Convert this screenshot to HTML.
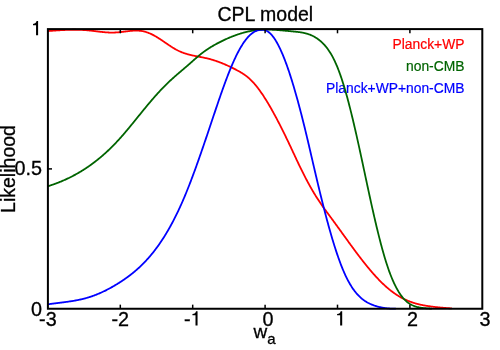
<!DOCTYPE html>
<html><head><meta charset="utf-8"><style>
html,body{margin:0;padding:0;background:#fff;}
svg{display:block;font-family:"Liberation Sans",sans-serif;will-change:transform;opacity:0.999;}
</style></head><body>
<svg width="500" height="350" viewBox="0 0 500 350">
<g font-size="13.85px" text-anchor="end" stroke-width="0.2">
<text x="464.5" y="48.9" fill="#ff0000" stroke="#ff0000">Planck+WP</text>
<text x="464.5" y="70.9" fill="#006400" stroke="#006400">non-CMB</text>
<text x="464.5" y="92.9" fill="#0000ff" stroke="#0000ff">Planck+WP+non-CMB</text>
</g>
<g fill="none" stroke-width="1.8" stroke-linejoin="round">
<path stroke="#ff0000" d="M47.9,31.09 L48.4,31.05 L48.9,31.01 L49.4,30.97 L49.9,30.93 L50.4,30.89 L50.9,30.86 L51.4,30.82 L51.9,30.78 L52.4,30.74 L52.9,30.71 L53.4,30.67 L53.9,30.63 L54.4,30.60 L54.9,30.56 L55.4,30.53 L55.9,30.49 L56.4,30.46 L56.9,30.43 L57.4,30.39 L57.9,30.36 L58.4,30.33 L58.9,30.30 L59.4,30.27 L59.9,30.24 L60.4,30.21 L60.9,30.18 L61.4,30.15 L61.9,30.13 L62.4,30.10 L62.9,30.07 L63.4,30.05 L63.9,30.03 L64.4,30.00 L64.9,29.98 L65.4,29.96 L65.9,29.94 L66.4,29.92 L66.9,29.90 L67.4,29.88 L67.9,29.87 L68.4,29.85 L68.9,29.84 L69.4,29.83 L69.9,29.82 L70.4,29.80 L70.9,29.80 L71.4,29.79 L71.9,29.78 L72.4,29.77 L72.9,29.77 L73.4,29.77 L73.9,29.76 L74.4,29.76 L74.9,29.77 L75.4,29.77 L75.9,29.77 L76.4,29.78 L76.9,29.78 L77.4,29.79 L77.9,29.80 L78.4,29.81 L78.9,29.82 L79.4,29.84 L79.9,29.85 L80.4,29.87 L80.9,29.89 L81.4,29.91 L81.9,29.93 L82.4,29.96 L82.9,29.98 L83.4,30.01 L83.9,30.04 L84.4,30.07 L84.9,30.11 L85.4,30.14 L85.9,30.18 L86.4,30.22 L86.9,30.26 L87.4,30.30 L87.9,30.35 L88.4,30.39 L88.9,30.44 L89.4,30.49 L89.9,30.54 L90.4,30.60 L90.9,30.65 L91.4,30.71 L91.9,30.77 L92.4,30.82 L92.9,30.88 L93.4,30.94 L93.9,31.01 L94.4,31.07 L94.9,31.13 L95.4,31.19 L95.9,31.25 L96.4,31.32 L96.9,31.38 L97.4,31.44 L97.9,31.50 L98.4,31.56 L98.9,31.62 L99.4,31.68 L99.9,31.74 L100.4,31.80 L100.9,31.86 L101.4,31.91 L101.9,31.97 L102.4,32.02 L102.9,32.07 L103.4,32.12 L103.9,32.17 L104.4,32.21 L104.9,32.26 L105.4,32.30 L105.9,32.34 L106.4,32.38 L106.9,32.41 L107.4,32.44 L107.9,32.47 L108.4,32.49 L108.9,32.52 L109.4,32.54 L109.9,32.55 L110.4,32.56 L110.9,32.57 L111.4,32.58 L111.9,32.58 L112.4,32.58 L112.9,32.57 L113.4,32.56 L113.9,32.55 L114.4,32.53 L114.9,32.51 L115.4,32.48 L115.9,32.46 L116.4,32.43 L116.9,32.39 L117.4,32.36 L117.9,32.32 L118.4,32.28 L118.9,32.23 L119.4,32.19 L119.9,32.14 L120.4,32.09 L120.9,32.04 L121.4,31.99 L121.9,31.93 L122.4,31.87 L122.9,31.82 L123.4,31.76 L123.9,31.70 L124.4,31.64 L124.9,31.58 L125.4,31.51 L125.9,31.45 L126.4,31.39 L126.9,31.33 L127.4,31.27 L127.9,31.21 L128.4,31.15 L128.9,31.09 L129.4,31.04 L129.9,30.98 L130.4,30.93 L130.9,30.88 L131.4,30.84 L131.9,30.79 L132.4,30.76 L132.9,30.72 L133.4,30.69 L133.9,30.66 L134.4,30.64 L134.9,30.62 L135.4,30.61 L135.9,30.60 L136.4,30.60 L136.9,30.61 L137.4,30.62 L137.9,30.64 L138.4,30.66 L138.9,30.69 L139.4,30.73 L139.9,30.78 L140.4,30.83 L140.9,30.89 L141.4,30.96 L141.9,31.04 L142.4,31.13 L142.9,31.23 L143.4,31.34 L143.9,31.45 L144.4,31.57 L144.9,31.71 L145.4,31.85 L145.9,32.00 L146.4,32.15 L146.9,32.32 L147.4,32.49 L147.9,32.67 L148.4,32.86 L148.9,33.06 L149.4,33.26 L149.9,33.47 L150.4,33.69 L150.9,33.92 L151.4,34.15 L151.9,34.39 L152.4,34.63 L152.9,34.89 L153.4,35.15 L153.9,35.41 L154.4,35.69 L154.9,35.97 L155.4,36.25 L155.9,36.54 L156.4,36.84 L156.9,37.14 L157.4,37.44 L157.9,37.75 L158.4,38.07 L158.9,38.38 L159.4,38.71 L159.9,39.03 L160.4,39.36 L160.9,39.69 L161.4,40.02 L161.9,40.36 L162.4,40.69 L162.9,41.03 L163.4,41.37 L163.9,41.71 L164.4,42.06 L164.9,42.40 L165.4,42.74 L165.9,43.08 L166.4,43.42 L166.9,43.76 L167.4,44.10 L167.9,44.44 L168.4,44.78 L168.9,45.12 L169.4,45.45 L169.9,45.78 L170.4,46.11 L170.9,46.43 L171.4,46.76 L171.9,47.07 L172.4,47.39 L172.9,47.70 L173.4,48.01 L173.9,48.31 L174.4,48.60 L174.9,48.90 L175.4,49.18 L175.9,49.46 L176.4,49.74 L176.9,50.00 L177.4,50.26 L177.9,50.52 L178.4,50.76 L178.9,51.00 L179.4,51.24 L179.9,51.46 L180.4,51.68 L180.9,51.89 L181.4,52.10 L181.9,52.30 L182.4,52.50 L182.9,52.68 L183.4,52.87 L183.9,53.04 L184.4,53.22 L184.9,53.38 L185.4,53.55 L185.9,53.70 L186.4,53.86 L186.9,54.01 L187.4,54.15 L187.9,54.29 L188.4,54.43 L188.9,54.56 L189.4,54.69 L189.9,54.82 L190.4,54.94 L190.9,55.06 L191.4,55.18 L191.9,55.29 L192.4,55.40 L192.9,55.51 L193.4,55.62 L193.9,55.72 L194.4,55.83 L194.9,55.93 L195.4,56.03 L195.9,56.13 L196.4,56.23 L196.9,56.33 L197.4,56.42 L197.9,56.52 L198.4,56.62 L198.9,56.71 L199.4,56.81 L199.9,56.90 L200.4,57.00 L200.9,57.09 L201.4,57.19 L201.9,57.29 L202.4,57.39 L202.9,57.49 L203.4,57.59 L203.9,57.69 L204.4,57.80 L204.9,57.90 L205.4,58.01 L205.9,58.12 L206.4,58.24 L206.9,58.35 L207.4,58.47 L207.9,58.59 L208.4,58.72 L208.9,58.84 L209.4,58.97 L209.9,59.11 L210.4,59.24 L210.9,59.38 L211.4,59.52 L211.9,59.67 L212.4,59.82 L212.9,59.97 L213.4,60.12 L213.9,60.28 L214.4,60.44 L214.9,60.60 L215.4,60.77 L215.9,60.94 L216.4,61.11 L216.9,61.28 L217.4,61.46 L217.9,61.64 L218.4,61.82 L218.9,62.00 L219.4,62.19 L219.9,62.38 L220.4,62.57 L220.9,62.76 L221.4,62.96 L221.9,63.16 L222.4,63.36 L222.9,63.57 L223.4,63.77 L223.9,63.98 L224.4,64.19 L224.9,64.41 L225.4,64.62 L225.9,64.84 L226.4,65.06 L226.9,65.29 L227.4,65.51 L227.9,65.74 L228.4,65.97 L228.9,66.20 L229.4,66.43 L229.9,66.67 L230.4,66.91 L230.9,67.15 L231.4,67.39 L231.9,67.63 L232.4,67.88 L232.9,68.13 L233.4,68.38 L233.9,68.63 L234.4,68.88 L234.9,69.14 L235.4,69.40 L235.9,69.65 L236.4,69.92 L236.9,70.18 L237.4,70.44 L237.9,70.71 L238.4,70.99 L238.9,71.26 L239.4,71.54 L239.9,71.83 L240.4,72.11 L240.9,72.41 L241.4,72.71 L241.9,73.02 L242.4,73.33 L242.9,73.65 L243.4,73.98 L243.9,74.31 L244.4,74.65 L244.9,75.00 L245.4,75.36 L245.9,75.73 L246.4,76.11 L246.9,76.50 L247.4,76.90 L247.9,77.31 L248.4,77.74 L248.9,78.17 L249.4,78.62 L249.9,79.07 L250.4,79.55 L250.9,80.03 L251.4,80.53 L251.9,81.04 L252.4,81.56 L252.9,82.09 L253.4,82.64 L253.9,83.19 L254.4,83.76 L254.9,84.35 L255.4,84.94 L255.9,85.54 L256.4,86.16 L256.9,86.78 L257.4,87.42 L257.9,88.07 L258.4,88.73 L258.9,89.39 L259.4,90.07 L259.9,90.76 L260.4,91.46 L260.9,92.17 L261.4,92.89 L261.9,93.62 L262.4,94.35 L262.9,95.10 L263.4,95.85 L263.9,96.62 L264.4,97.39 L264.9,98.17 L265.4,98.96 L265.9,99.76 L266.4,100.57 L266.9,101.38 L267.4,102.21 L267.9,103.04 L268.4,103.88 L268.9,104.72 L269.4,105.57 L269.9,106.43 L270.4,107.30 L270.9,108.18 L271.4,109.06 L271.9,109.94 L272.4,110.84 L272.9,111.74 L273.4,112.64 L273.9,113.56 L274.4,114.47 L274.9,115.40 L275.4,116.33 L275.9,117.26 L276.4,118.20 L276.9,119.15 L277.4,120.10 L277.9,121.06 L278.4,122.02 L278.9,122.98 L279.4,123.95 L279.9,124.93 L280.4,125.91 L280.9,126.90 L281.4,127.89 L281.9,128.88 L282.4,129.88 L282.9,130.89 L283.4,131.90 L283.9,132.91 L284.4,133.92 L284.9,134.95 L285.4,135.97 L285.9,137.00 L286.4,138.03 L286.9,139.07 L287.4,140.11 L287.9,141.15 L288.4,142.20 L288.9,143.25 L289.4,144.30 L289.9,145.36 L290.4,146.42 L290.9,147.48 L291.4,148.55 L291.9,149.62 L292.4,150.69 L292.9,151.76 L293.4,152.83 L293.9,153.91 L294.4,154.98 L294.9,156.05 L295.4,157.12 L295.9,158.19 L296.4,159.26 L296.9,160.32 L297.4,161.38 L297.9,162.44 L298.4,163.49 L298.9,164.54 L299.4,165.58 L299.9,166.62 L300.4,167.65 L300.9,168.67 L301.4,169.69 L301.9,170.71 L302.4,171.71 L302.9,172.71 L303.4,173.70 L303.9,174.69 L304.4,175.67 L304.9,176.64 L305.4,177.61 L305.9,178.57 L306.4,179.52 L306.9,180.47 L307.4,181.40 L307.9,182.33 L308.4,183.26 L308.9,184.17 L309.4,185.08 L309.9,185.98 L310.4,186.88 L310.9,187.77 L311.4,188.64 L311.9,189.51 L312.4,190.38 L312.9,191.23 L313.4,192.08 L313.9,192.92 L314.4,193.75 L314.9,194.57 L315.4,195.39 L315.9,196.19 L316.4,196.99 L316.9,197.78 L317.4,198.56 L317.9,199.33 L318.4,200.10 L318.9,200.85 L319.4,201.60 L319.9,202.34 L320.4,203.08 L320.9,203.81 L321.4,204.53 L321.9,205.24 L322.4,205.96 L322.9,206.66 L323.4,207.36 L323.9,208.06 L324.4,208.75 L324.9,209.44 L325.4,210.13 L325.9,210.81 L326.4,211.50 L326.9,212.18 L327.4,212.85 L327.9,213.53 L328.4,214.21 L328.9,214.88 L329.4,215.56 L329.9,216.23 L330.4,216.91 L330.9,217.58 L331.4,218.26 L331.9,218.94 L332.4,219.62 L332.9,220.30 L333.4,220.98 L333.9,221.67 L334.4,222.35 L334.9,223.04 L335.4,223.73 L335.9,224.42 L336.4,225.10 L336.9,225.79 L337.4,226.48 L337.9,227.18 L338.4,227.87 L338.9,228.56 L339.4,229.25 L339.9,229.95 L340.4,230.64 L340.9,231.33 L341.4,232.03 L341.9,232.72 L342.4,233.41 L342.9,234.11 L343.4,234.80 L343.9,235.50 L344.4,236.19 L344.9,236.88 L345.4,237.58 L345.9,238.27 L346.4,238.96 L346.9,239.65 L347.4,240.34 L347.9,241.03 L348.4,241.72 L348.9,242.41 L349.4,243.10 L349.9,243.79 L350.4,244.47 L350.9,245.16 L351.4,245.84 L351.9,246.52 L352.4,247.20 L352.9,247.88 L353.4,248.56 L353.9,249.24 L354.4,249.92 L354.9,250.59 L355.4,251.26 L355.9,251.93 L356.4,252.60 L356.9,253.27 L357.4,253.93 L357.9,254.60 L358.4,255.26 L358.9,255.92 L359.4,256.57 L359.9,257.23 L360.4,257.88 L360.9,258.53 L361.4,259.18 L361.9,259.82 L362.4,260.46 L362.9,261.10 L363.4,261.74 L363.9,262.37 L364.4,263.00 L364.9,263.63 L365.4,264.26 L365.9,264.88 L366.4,265.50 L366.9,266.12 L367.4,266.73 L367.9,267.34 L368.4,267.94 L368.9,268.55 L369.4,269.14 L369.9,269.74 L370.4,270.33 L370.9,270.92 L371.4,271.50 L371.9,272.09 L372.4,272.66 L372.9,273.23 L373.4,273.80 L373.9,274.37 L374.4,274.93 L374.9,275.48 L375.4,276.04 L375.9,276.58 L376.4,277.13 L376.9,277.67 L377.4,278.20 L377.9,278.73 L378.4,279.25 L378.9,279.77 L379.4,280.29 L379.9,280.80 L380.4,281.31 L380.9,281.81 L381.4,282.30 L381.9,282.79 L382.4,283.28 L382.9,283.76 L383.4,284.23 L383.9,284.70 L384.4,285.16 L384.9,285.62 L385.4,286.07 L385.9,286.52 L386.4,286.96 L386.9,287.40 L387.4,287.83 L387.9,288.25 L388.4,288.67 L388.9,289.08 L389.4,289.49 L389.9,289.90 L390.4,290.29 L390.9,290.69 L391.4,291.07 L391.9,291.45 L392.4,291.83 L392.9,292.20 L393.4,292.56 L393.9,292.92 L394.4,293.28 L394.9,293.63 L395.4,293.97 L395.9,294.31 L396.4,294.64 L396.9,294.97 L397.4,295.29 L397.9,295.60 L398.4,295.91 L398.9,296.22 L399.4,296.52 L399.9,296.81 L400.4,297.10 L400.9,297.39 L401.4,297.66 L401.9,297.94 L402.4,298.20 L402.9,298.47 L403.4,298.72 L403.9,298.97 L404.4,299.22 L404.9,299.46 L405.4,299.69 L405.9,299.92 L406.4,300.15 L406.9,300.37 L407.4,300.58 L407.9,300.79 L408.4,301.00 L408.9,301.20 L409.4,301.39 L409.9,301.58 L410.4,301.77 L410.9,301.95 L411.4,302.13 L411.9,302.30 L412.4,302.47 L412.9,302.64 L413.4,302.80 L413.9,302.96 L414.4,303.11 L414.9,303.26 L415.4,303.40 L415.9,303.55 L416.4,303.69 L416.9,303.82 L417.4,303.95 L417.9,304.08 L418.4,304.20 L418.9,304.33 L419.4,304.44 L419.9,304.56 L420.4,304.67 L420.9,304.78 L421.4,304.89 L421.9,304.99 L422.4,305.09 L422.9,305.19 L423.4,305.29 L423.9,305.38 L424.4,305.47 L424.9,305.56 L425.4,305.65 L425.9,305.73 L426.4,305.81 L426.9,305.89 L427.4,305.97 L427.9,306.05 L428.4,306.12 L428.9,306.19 L429.4,306.26 L429.9,306.33 L430.4,306.40 L430.9,306.47 L431.4,306.53 L431.9,306.60 L432.4,306.66 L432.9,306.72 L433.4,306.78 L433.9,306.84 L434.4,306.90 L434.9,306.96 L435.4,307.02 L435.9,307.07 L436.4,307.13 L436.9,307.18 L437.4,307.24 L437.9,307.29 L438.4,307.34 L438.9,307.39 L439.4,307.44 L439.9,307.49 L440.4,307.54 L440.9,307.59 L441.4,307.63 L441.9,307.68 L442.4,307.72 L442.9,307.77 L443.4,307.81 L443.9,307.85 L444.4,307.90 L444.9,307.94 L445.4,307.98 L445.9,308.01 L446.4,308.05 L446.9,308.09 L447.4,308.13 L447.9,308.16 L448.4,308.20 L448.9,308.23 L449.4,308.26 L449.9,308.29 L450.4,308.32 L450.9,308.36 L451.4,308.38 L451.9,308.41"/>
<path stroke="#006400" d="M47.9,186.24 L48.4,186.09 L48.9,185.93 L49.4,185.77 L49.9,185.60 L50.4,185.44 L50.9,185.27 L51.4,185.10 L51.9,184.93 L52.4,184.76 L52.9,184.59 L53.4,184.41 L53.9,184.23 L54.4,184.05 L54.9,183.87 L55.4,183.69 L55.9,183.50 L56.4,183.32 L56.9,183.13 L57.4,182.93 L57.9,182.74 L58.4,182.55 L58.9,182.35 L59.4,182.15 L59.9,181.95 L60.4,181.74 L60.9,181.54 L61.4,181.33 L61.9,181.12 L62.4,180.91 L62.9,180.69 L63.4,180.48 L63.9,180.26 L64.4,180.04 L64.9,179.81 L65.4,179.59 L65.9,179.36 L66.4,179.13 L66.9,178.90 L67.4,178.67 L67.9,178.43 L68.4,178.19 L68.9,177.95 L69.4,177.71 L69.9,177.46 L70.4,177.21 L70.9,176.96 L71.4,176.71 L71.9,176.45 L72.4,176.19 L72.9,175.93 L73.4,175.67 L73.9,175.40 L74.4,175.14 L74.9,174.87 L75.4,174.59 L75.9,174.32 L76.4,174.04 L76.9,173.76 L77.4,173.48 L77.9,173.19 L78.4,172.90 L78.9,172.61 L79.4,172.32 L79.9,172.02 L80.4,171.72 L80.9,171.42 L81.4,171.12 L81.9,170.81 L82.4,170.50 L82.9,170.19 L83.4,169.87 L83.9,169.55 L84.4,169.23 L84.9,168.91 L85.4,168.58 L85.9,168.25 L86.4,167.92 L86.9,167.59 L87.4,167.25 L87.9,166.91 L88.4,166.56 L88.9,166.22 L89.4,165.87 L89.9,165.52 L90.4,165.16 L90.9,164.80 L91.4,164.44 L91.9,164.08 L92.4,163.71 L92.9,163.34 L93.4,162.97 L93.9,162.59 L94.4,162.21 L94.9,161.83 L95.4,161.44 L95.9,161.05 L96.4,160.66 L96.9,160.27 L97.4,159.87 L97.9,159.47 L98.4,159.06 L98.9,158.65 L99.4,158.24 L99.9,157.83 L100.4,157.41 L100.9,156.99 L101.4,156.57 L101.9,156.14 L102.4,155.71 L102.9,155.27 L103.4,154.84 L103.9,154.40 L104.4,153.95 L104.9,153.50 L105.4,153.05 L105.9,152.60 L106.4,152.14 L106.9,151.68 L107.4,151.22 L107.9,150.75 L108.4,150.28 L108.9,149.80 L109.4,149.32 L109.9,148.84 L110.4,148.36 L110.9,147.87 L111.4,147.37 L111.9,146.88 L112.4,146.38 L112.9,145.87 L113.4,145.37 L113.9,144.86 L114.4,144.34 L114.9,143.82 L115.4,143.30 L115.9,142.78 L116.4,142.25 L116.9,141.72 L117.4,141.18 L117.9,140.64 L118.4,140.09 L118.9,139.55 L119.4,139.00 L119.9,138.44 L120.4,137.88 L120.9,137.32 L121.4,136.76 L121.9,136.19 L122.4,135.62 L122.9,135.04 L123.4,134.47 L123.9,133.89 L124.4,133.30 L124.9,132.72 L125.4,132.13 L125.9,131.54 L126.4,130.95 L126.9,130.36 L127.4,129.76 L127.9,129.16 L128.4,128.56 L128.9,127.96 L129.4,127.35 L129.9,126.75 L130.4,126.14 L130.9,125.53 L131.4,124.93 L131.9,124.31 L132.4,123.70 L132.9,123.09 L133.4,122.48 L133.9,121.86 L134.4,121.25 L134.9,120.63 L135.4,120.01 L135.9,119.39 L136.4,118.78 L136.9,118.16 L137.4,117.54 L137.9,116.92 L138.4,116.30 L138.9,115.69 L139.4,115.07 L139.9,114.45 L140.4,113.83 L140.9,113.22 L141.4,112.60 L141.9,111.98 L142.4,111.37 L142.9,110.75 L143.4,110.14 L143.9,109.53 L144.4,108.92 L144.9,108.31 L145.4,107.70 L145.9,107.09 L146.4,106.49 L146.9,105.88 L147.4,105.28 L147.9,104.68 L148.4,104.08 L148.9,103.49 L149.4,102.89 L149.9,102.30 L150.4,101.71 L150.9,101.12 L151.4,100.54 L151.9,99.95 L152.4,99.37 L152.9,98.80 L153.4,98.22 L153.9,97.65 L154.4,97.08 L154.9,96.51 L155.4,95.95 L155.9,95.39 L156.4,94.83 L156.9,94.28 L157.4,93.72 L157.9,93.18 L158.4,92.63 L158.9,92.09 L159.4,91.55 L159.9,91.01 L160.4,90.48 L160.9,89.94 L161.4,89.42 L161.9,88.89 L162.4,88.37 L162.9,87.85 L163.4,87.34 L163.9,86.83 L164.4,86.32 L164.9,85.81 L165.4,85.31 L165.9,84.81 L166.4,84.32 L166.9,83.83 L167.4,83.34 L167.9,82.86 L168.4,82.38 L168.9,81.90 L169.4,81.43 L169.9,80.96 L170.4,80.49 L170.9,80.03 L171.4,79.57 L171.9,79.11 L172.4,78.66 L172.9,78.21 L173.4,77.76 L173.9,77.32 L174.4,76.87 L174.9,76.43 L175.4,75.99 L175.9,75.56 L176.4,75.12 L176.9,74.69 L177.4,74.26 L177.9,73.83 L178.4,73.40 L178.9,72.98 L179.4,72.55 L179.9,72.12 L180.4,71.70 L180.9,71.27 L181.4,70.85 L181.9,70.42 L182.4,70.00 L182.9,69.57 L183.4,69.15 L183.9,68.72 L184.4,68.30 L184.9,67.87 L185.4,67.44 L185.9,67.01 L186.4,66.58 L186.9,66.15 L187.4,65.72 L187.9,65.28 L188.4,64.85 L188.9,64.41 L189.4,63.97 L189.9,63.53 L190.4,63.09 L190.9,62.64 L191.4,62.20 L191.9,61.76 L192.4,61.31 L192.9,60.87 L193.4,60.43 L193.9,59.99 L194.4,59.55 L194.9,59.11 L195.4,58.67 L195.9,58.24 L196.4,57.80 L196.9,57.37 L197.4,56.95 L197.9,56.52 L198.4,56.10 L198.9,55.68 L199.4,55.27 L199.9,54.86 L200.4,54.45 L200.9,54.05 L201.4,53.66 L201.9,53.27 L202.4,52.88 L202.9,52.50 L203.4,52.13 L203.9,51.76 L204.4,51.39 L204.9,51.03 L205.4,50.68 L205.9,50.33 L206.4,49.98 L206.9,49.64 L207.4,49.30 L207.9,48.97 L208.4,48.64 L208.9,48.32 L209.4,48.00 L209.9,47.69 L210.4,47.38 L210.9,47.07 L211.4,46.76 L211.9,46.46 L212.4,46.17 L212.9,45.87 L213.4,45.59 L213.9,45.30 L214.4,45.02 L214.9,44.74 L215.4,44.46 L215.9,44.18 L216.4,43.91 L216.9,43.64 L217.4,43.38 L217.9,43.11 L218.4,42.85 L218.9,42.59 L219.4,42.34 L219.9,42.08 L220.4,41.83 L220.9,41.58 L221.4,41.33 L221.9,41.09 L222.4,40.84 L222.9,40.60 L223.4,40.36 L223.9,40.12 L224.4,39.89 L224.9,39.65 L225.4,39.42 L225.9,39.19 L226.4,38.97 L226.9,38.74 L227.4,38.52 L227.9,38.30 L228.4,38.08 L228.9,37.87 L229.4,37.65 L229.9,37.44 L230.4,37.23 L230.9,37.03 L231.4,36.82 L231.9,36.62 L232.4,36.43 L232.9,36.23 L233.4,36.04 L233.9,35.84 L234.4,35.66 L234.9,35.47 L235.4,35.29 L235.9,35.11 L236.4,34.93 L236.9,34.75 L237.4,34.58 L237.9,34.41 L238.4,34.24 L238.9,34.08 L239.4,33.91 L239.9,33.76 L240.4,33.60 L240.9,33.45 L241.4,33.29 L241.9,33.15 L242.4,33.00 L242.9,32.86 L243.4,32.72 L243.9,32.58 L244.4,32.45 L244.9,32.32 L245.4,32.19 L245.9,32.06 L246.4,31.94 L246.9,31.82 L247.4,31.71 L247.9,31.59 L248.4,31.48 L248.9,31.38 L249.4,31.27 L249.9,31.17 L250.4,31.07 L250.9,30.98 L251.4,30.89 L251.9,30.80 L252.4,30.71 L252.9,30.63 L253.4,30.55 L253.9,30.48 L254.4,30.41 L254.9,30.34 L255.4,30.27 L255.9,30.21 L256.4,30.15 L256.9,30.10 L257.4,30.05 L257.9,30.00 L258.4,29.95 L258.9,29.91 L259.4,29.87 L259.9,29.83 L260.4,29.80 L260.9,29.77 L261.4,29.74 L261.9,29.71 L262.4,29.69 L262.9,29.67 L263.4,29.65 L263.9,29.64 L264.4,29.63 L264.9,29.62 L265.4,29.61 L265.9,29.61 L266.4,29.61 L266.9,29.60 L267.4,29.61 L267.9,29.61 L268.4,29.62 L268.9,29.63 L269.4,29.64 L269.9,29.65 L270.4,29.66 L270.9,29.68 L271.4,29.70 L271.9,29.72 L272.4,29.74 L272.9,29.76 L273.4,29.79 L273.9,29.81 L274.4,29.84 L274.9,29.87 L275.4,29.90 L275.9,29.93 L276.4,29.97 L276.9,30.00 L277.4,30.04 L277.9,30.07 L278.4,30.11 L278.9,30.15 L279.4,30.19 L279.9,30.23 L280.4,30.27 L280.9,30.32 L281.4,30.36 L281.9,30.40 L282.4,30.45 L282.9,30.49 L283.4,30.54 L283.9,30.58 L284.4,30.63 L284.9,30.68 L285.4,30.73 L285.9,30.77 L286.4,30.82 L286.9,30.87 L287.4,30.92 L287.9,30.97 L288.4,31.02 L288.9,31.06 L289.4,31.11 L289.9,31.16 L290.4,31.21 L290.9,31.26 L291.4,31.31 L291.9,31.35 L292.4,31.40 L292.9,31.45 L293.4,31.49 L293.9,31.54 L294.4,31.59 L294.9,31.64 L295.4,31.69 L295.9,31.74 L296.4,31.79 L296.9,31.85 L297.4,31.90 L297.9,31.96 L298.4,32.02 L298.9,32.09 L299.4,32.15 L299.9,32.22 L300.4,32.30 L300.9,32.37 L301.4,32.46 L301.9,32.54 L302.4,32.63 L302.9,32.73 L303.4,32.83 L303.9,32.94 L304.4,33.05 L304.9,33.16 L305.4,33.29 L305.9,33.42 L306.4,33.55 L306.9,33.69 L307.4,33.84 L307.9,34.00 L308.4,34.17 L308.9,34.34 L309.4,34.52 L309.9,34.71 L310.4,34.90 L310.9,35.11 L311.4,35.33 L311.9,35.55 L312.4,35.78 L312.9,36.03 L313.4,36.28 L313.9,36.54 L314.4,36.82 L314.9,37.10 L315.4,37.40 L315.9,37.71 L316.4,38.03 L316.9,38.36 L317.4,38.70 L317.9,39.05 L318.4,39.42 L318.9,39.80 L319.4,40.19 L319.9,40.60 L320.4,41.02 L320.9,41.45 L321.4,41.90 L321.9,42.36 L322.4,42.84 L322.9,43.33 L323.4,43.84 L323.9,44.36 L324.4,44.90 L324.9,45.46 L325.4,46.04 L325.9,46.64 L326.4,47.25 L326.9,47.89 L327.4,48.55 L327.9,49.23 L328.4,49.93 L328.9,50.65 L329.4,51.40 L329.9,52.18 L330.4,52.98 L330.9,53.80 L331.4,54.65 L331.9,55.53 L332.4,56.44 L332.9,57.38 L333.4,58.34 L333.9,59.34 L334.4,60.36 L334.9,61.42 L335.4,62.51 L335.9,63.63 L336.4,64.79 L336.9,65.97 L337.4,67.19 L337.9,68.44 L338.4,69.73 L338.9,71.04 L339.4,72.39 L339.9,73.76 L340.4,75.17 L340.9,76.61 L341.4,78.08 L341.9,79.58 L342.4,81.12 L342.9,82.68 L343.4,84.27 L343.9,85.90 L344.4,87.55 L344.9,89.24 L345.4,90.95 L345.9,92.70 L346.4,94.47 L346.9,96.27 L347.4,98.10 L347.9,99.96 L348.4,101.84 L348.9,103.75 L349.4,105.68 L349.9,107.63 L350.4,109.61 L350.9,111.61 L351.4,113.63 L351.9,115.68 L352.4,117.74 L352.9,119.83 L353.4,121.93 L353.9,124.05 L354.4,126.20 L354.9,128.35 L355.4,130.53 L355.9,132.72 L356.4,134.92 L356.9,137.14 L357.4,139.38 L357.9,141.62 L358.4,143.88 L358.9,146.15 L359.4,148.43 L359.9,150.73 L360.4,153.03 L360.9,155.34 L361.4,157.66 L361.9,159.98 L362.4,162.31 L362.9,164.64 L363.4,166.98 L363.9,169.32 L364.4,171.66 L364.9,174.00 L365.4,176.35 L365.9,178.69 L366.4,181.02 L366.9,183.36 L367.4,185.69 L367.9,188.02 L368.4,190.34 L368.9,192.65 L369.4,194.96 L369.9,197.26 L370.4,199.55 L370.9,201.82 L371.4,204.09 L371.9,206.34 L372.4,208.58 L372.9,210.81 L373.4,213.02 L373.9,215.21 L374.4,217.39 L374.9,219.55 L375.4,221.70 L375.9,223.82 L376.4,225.93 L376.9,228.01 L377.4,230.08 L377.9,232.12 L378.4,234.14 L378.9,236.14 L379.4,238.12 L379.9,240.07 L380.4,242.00 L380.9,243.91 L381.4,245.79 L381.9,247.64 L382.4,249.46 L382.9,251.26 L383.4,253.03 L383.9,254.77 L384.4,256.48 L384.9,258.16 L385.4,259.81 L385.9,261.43 L386.4,263.01 L386.9,264.56 L387.4,266.08 L387.9,267.57 L388.4,269.02 L388.9,270.44 L389.4,271.82 L389.9,273.17 L390.4,274.48 L390.9,275.77 L391.4,277.02 L391.9,278.24 L392.4,279.43 L392.9,280.59 L393.4,281.71 L393.9,282.81 L394.4,283.88 L394.9,284.91 L395.4,285.92 L395.9,286.90 L396.4,287.85 L396.9,288.77 L397.4,289.66 L397.9,290.53 L398.4,291.36 L398.9,292.18 L399.4,292.96 L399.9,293.72 L400.4,294.45 L400.9,295.16 L401.4,295.84 L401.9,296.49 L402.4,297.13 L402.9,297.73 L403.4,298.32 L403.9,298.88 L404.4,299.41 L404.9,299.93 L405.4,300.42 L405.9,300.89 L406.4,301.34 L406.9,301.77 L407.4,302.18 L407.9,302.57 L408.4,302.94 L408.9,303.29 L409.4,303.63 L409.9,303.95 L410.4,304.25 L410.9,304.53 L411.4,304.80 L411.9,305.06 L412.4,305.30 L412.9,305.52 L413.4,305.74 L413.9,305.94 L414.4,306.13 L414.9,306.30 L415.4,306.47 L415.9,306.62 L416.4,306.76 L416.9,306.90 L417.4,307.02 L417.9,307.14 L418.4,307.25 L418.9,307.35 L419.4,307.45 L419.9,307.53 L420.4,307.62 L420.9,307.69 L421.4,307.77 L421.9,307.83 L422.4,307.90 L422.9,307.96 L423.4,308.02 L423.9,308.07 L424.4,308.13 L424.9,308.17 L425.4,308.22 L425.9,308.26 L426.4,308.30 L426.9,308.34 L427.4,308.38 L427.9,308.41 L428.4,308.44 L428.9,308.47 L429.4,308.50 L429.9,308.52 L430.4,308.54 L430.9,308.56 L431.4,308.58 L431.9,308.60"/>
<path stroke="#0000ff" d="M47.9,304.32 L48.4,304.24 L48.9,304.17 L49.4,304.10 L49.9,304.03 L50.4,303.96 L50.9,303.89 L51.4,303.83 L51.9,303.76 L52.4,303.69 L52.9,303.63 L53.4,303.56 L53.9,303.50 L54.4,303.43 L54.9,303.37 L55.4,303.31 L55.9,303.24 L56.4,303.18 L56.9,303.12 L57.4,303.06 L57.9,302.99 L58.4,302.93 L58.9,302.87 L59.4,302.81 L59.9,302.74 L60.4,302.68 L60.9,302.62 L61.4,302.56 L61.9,302.49 L62.4,302.43 L62.9,302.37 L63.4,302.30 L63.9,302.24 L64.4,302.17 L64.9,302.11 L65.4,302.04 L65.9,301.97 L66.4,301.91 L66.9,301.84 L67.4,301.77 L67.9,301.70 L68.4,301.63 L68.9,301.55 L69.4,301.48 L69.9,301.41 L70.4,301.33 L70.9,301.25 L71.4,301.18 L71.9,301.10 L72.4,301.02 L72.9,300.93 L73.4,300.85 L73.9,300.77 L74.4,300.68 L74.9,300.59 L75.4,300.50 L75.9,300.41 L76.4,300.32 L76.9,300.22 L77.4,300.12 L77.9,300.03 L78.4,299.92 L78.9,299.82 L79.4,299.72 L79.9,299.61 L80.4,299.50 L80.9,299.39 L81.4,299.28 L81.9,299.16 L82.4,299.04 L82.9,298.92 L83.4,298.80 L83.9,298.67 L84.4,298.54 L84.9,298.41 L85.4,298.28 L85.9,298.14 L86.4,298.00 L86.9,297.86 L87.4,297.72 L87.9,297.57 L88.4,297.42 L88.9,297.26 L89.4,297.11 L89.9,296.95 L90.4,296.79 L90.9,296.62 L91.4,296.45 L91.9,296.28 L92.4,296.11 L92.9,295.93 L93.4,295.75 L93.9,295.56 L94.4,295.38 L94.9,295.19 L95.4,295.00 L95.9,294.80 L96.4,294.61 L96.9,294.41 L97.4,294.20 L97.9,294.00 L98.4,293.79 L98.9,293.58 L99.4,293.36 L99.9,293.15 L100.4,292.93 L100.9,292.70 L101.4,292.48 L101.9,292.25 L102.4,292.02 L102.9,291.79 L103.4,291.55 L103.9,291.31 L104.4,291.07 L104.9,290.83 L105.4,290.58 L105.9,290.33 L106.4,290.08 L106.9,289.82 L107.4,289.56 L107.9,289.30 L108.4,289.04 L108.9,288.78 L109.4,288.51 L109.9,288.24 L110.4,287.96 L110.9,287.69 L111.4,287.41 L111.9,287.13 L112.4,286.85 L112.9,286.56 L113.4,286.27 L113.9,285.98 L114.4,285.69 L114.9,285.39 L115.4,285.09 L115.9,284.79 L116.4,284.49 L116.9,284.18 L117.4,283.88 L117.9,283.56 L118.4,283.25 L118.9,282.94 L119.4,282.62 L119.9,282.30 L120.4,281.97 L120.9,281.65 L121.4,281.32 L121.9,280.99 L122.4,280.66 L122.9,280.32 L123.4,279.98 L123.9,279.64 L124.4,279.30 L124.9,278.95 L125.4,278.60 L125.9,278.25 L126.4,277.89 L126.9,277.53 L127.4,277.17 L127.9,276.80 L128.4,276.43 L128.9,276.06 L129.4,275.68 L129.9,275.30 L130.4,274.92 L130.9,274.53 L131.4,274.14 L131.9,273.74 L132.4,273.34 L132.9,272.94 L133.4,272.53 L133.9,272.12 L134.4,271.70 L134.9,271.28 L135.4,270.85 L135.9,270.43 L136.4,269.99 L136.9,269.55 L137.4,269.11 L137.9,268.66 L138.4,268.21 L138.9,267.75 L139.4,267.29 L139.9,266.82 L140.4,266.35 L140.9,265.87 L141.4,265.39 L141.9,264.90 L142.4,264.41 L142.9,263.91 L143.4,263.40 L143.9,262.89 L144.4,262.38 L144.9,261.86 L145.4,261.33 L145.9,260.80 L146.4,260.26 L146.9,259.71 L147.4,259.16 L147.9,258.61 L148.4,258.04 L148.9,257.48 L149.4,256.90 L149.9,256.32 L150.4,255.73 L150.9,255.14 L151.4,254.54 L151.9,253.93 L152.4,253.32 L152.9,252.70 L153.4,252.07 L153.9,251.43 L154.4,250.79 L154.9,250.14 L155.4,249.49 L155.9,248.83 L156.4,248.16 L156.9,247.48 L157.4,246.80 L157.9,246.11 L158.4,245.41 L158.9,244.70 L159.4,243.99 L159.9,243.26 L160.4,242.53 L160.9,241.80 L161.4,241.05 L161.9,240.30 L162.4,239.54 L162.9,238.77 L163.4,237.99 L163.9,237.21 L164.4,236.41 L164.9,235.61 L165.4,234.80 L165.9,233.98 L166.4,233.15 L166.9,232.32 L167.4,231.47 L167.9,230.62 L168.4,229.75 L168.9,228.88 L169.4,228.00 L169.9,227.11 L170.4,226.21 L170.9,225.31 L171.4,224.39 L171.9,223.46 L172.4,222.53 L172.9,221.58 L173.4,220.63 L173.9,219.66 L174.4,218.69 L174.9,217.70 L175.4,216.71 L175.9,215.71 L176.4,214.69 L176.9,213.67 L177.4,212.64 L177.9,211.60 L178.4,210.54 L178.9,209.48 L179.4,208.40 L179.9,207.32 L180.4,206.22 L180.9,205.12 L181.4,204.00 L181.9,202.88 L182.4,201.74 L182.9,200.59 L183.4,199.43 L183.9,198.26 L184.4,197.08 L184.9,195.89 L185.4,194.69 L185.9,193.47 L186.4,192.25 L186.9,191.02 L187.4,189.77 L187.9,188.52 L188.4,187.26 L188.9,185.99 L189.4,184.71 L189.9,183.42 L190.4,182.12 L190.9,180.82 L191.4,179.50 L191.9,178.18 L192.4,176.85 L192.9,175.51 L193.4,174.16 L193.9,172.81 L194.4,171.45 L194.9,170.08 L195.4,168.71 L195.9,167.33 L196.4,165.94 L196.9,164.55 L197.4,163.15 L197.9,161.74 L198.4,160.33 L198.9,158.92 L199.4,157.49 L199.9,156.07 L200.4,154.64 L200.9,153.20 L201.4,151.76 L201.9,150.31 L202.4,148.86 L202.9,147.41 L203.4,145.95 L203.9,144.49 L204.4,143.03 L204.9,141.56 L205.4,140.09 L205.9,138.62 L206.4,137.14 L206.9,135.67 L207.4,134.19 L207.9,132.70 L208.4,131.22 L208.9,129.73 L209.4,128.25 L209.9,126.76 L210.4,125.27 L210.9,123.78 L211.4,122.29 L211.9,120.80 L212.4,119.30 L212.9,117.81 L213.4,116.32 L213.9,114.83 L214.4,113.34 L214.9,111.86 L215.4,110.37 L215.9,108.89 L216.4,107.41 L216.9,105.93 L217.4,104.46 L217.9,102.99 L218.4,101.53 L218.9,100.07 L219.4,98.62 L219.9,97.17 L220.4,95.73 L220.9,94.30 L221.4,92.88 L221.9,91.46 L222.4,90.05 L222.9,88.64 L223.4,87.25 L223.9,85.87 L224.4,84.49 L224.9,83.13 L225.4,81.77 L225.9,80.43 L226.4,79.10 L226.9,77.78 L227.4,76.47 L227.9,75.17 L228.4,73.89 L228.9,72.62 L229.4,71.37 L229.9,70.12 L230.4,68.90 L230.9,67.68 L231.4,66.49 L231.9,65.31 L232.4,64.14 L232.9,62.99 L233.4,61.86 L233.9,60.75 L234.4,59.65 L234.9,58.57 L235.4,57.51 L235.9,56.47 L236.4,55.45 L236.9,54.44 L237.4,53.45 L237.9,52.48 L238.4,51.53 L238.9,50.60 L239.4,49.69 L239.9,48.80 L240.4,47.92 L240.9,47.07 L241.4,46.23 L241.9,45.42 L242.4,44.62 L242.9,43.84 L243.4,43.09 L243.9,42.35 L244.4,41.64 L244.9,40.94 L245.4,40.27 L245.9,39.62 L246.4,38.98 L246.9,38.37 L247.4,37.78 L247.9,37.22 L248.4,36.67 L248.9,36.14 L249.4,35.64 L249.9,35.16 L250.4,34.70 L250.9,34.26 L251.4,33.85 L251.9,33.45 L252.4,33.08 L252.9,32.73 L253.4,32.40 L253.9,32.09 L254.4,31.80 L254.9,31.53 L255.4,31.28 L255.9,31.05 L256.4,30.84 L256.9,30.65 L257.4,30.48 L257.9,30.33 L258.4,30.19 L258.9,30.08 L259.4,29.98 L259.9,29.91 L260.4,29.85 L260.9,29.81 L261.4,29.78 L261.9,29.78 L262.4,29.79 L262.9,29.83 L263.4,29.88 L263.9,29.97 L264.4,30.07 L264.9,30.20 L265.4,30.36 L265.9,30.54 L266.4,30.75 L266.9,31.00 L267.4,31.27 L267.9,31.58 L268.4,31.92 L268.9,32.29 L269.4,32.70 L269.9,33.13 L270.4,33.61 L270.9,34.11 L271.4,34.65 L271.9,35.21 L272.4,35.81 L272.9,36.44 L273.4,37.10 L273.9,37.79 L274.4,38.52 L274.9,39.27 L275.4,40.05 L275.9,40.86 L276.4,41.70 L276.9,42.57 L277.4,43.47 L277.9,44.39 L278.4,45.34 L278.9,46.33 L279.4,47.33 L279.9,48.37 L280.4,49.43 L280.9,50.52 L281.4,51.64 L281.9,52.78 L282.4,53.95 L282.9,55.14 L283.4,56.36 L283.9,57.60 L284.4,58.87 L284.9,60.16 L285.4,61.48 L285.9,62.81 L286.4,64.18 L286.9,65.56 L287.4,66.97 L287.9,68.40 L288.4,69.86 L288.9,71.33 L289.4,72.83 L289.9,74.35 L290.4,75.89 L290.9,77.45 L291.4,79.04 L291.9,80.64 L292.4,82.26 L292.9,83.90 L293.4,85.56 L293.9,87.24 L294.4,88.94 L294.9,90.66 L295.4,92.40 L295.9,94.15 L296.4,95.93 L296.9,97.72 L297.4,99.52 L297.9,101.35 L298.4,103.19 L298.9,105.05 L299.4,106.92 L299.9,108.81 L300.4,110.72 L300.9,112.64 L301.4,114.58 L301.9,116.53 L302.4,118.50 L302.9,120.48 L303.4,122.48 L303.9,124.49 L304.4,126.51 L304.9,128.55 L305.4,130.60 L305.9,132.67 L306.4,134.75 L306.9,136.84 L307.4,138.94 L307.9,141.06 L308.4,143.19 L308.9,145.32 L309.4,147.47 L309.9,149.62 L310.4,151.77 L310.9,153.94 L311.4,156.10 L311.9,158.26 L312.4,160.42 L312.9,162.59 L313.4,164.74 L313.9,166.90 L314.4,169.04 L314.9,171.18 L315.4,173.32 L315.9,175.44 L316.4,177.56 L316.9,179.67 L317.4,181.78 L317.9,183.87 L318.4,185.96 L318.9,188.03 L319.4,190.10 L319.9,192.15 L320.4,194.20 L320.9,196.23 L321.4,198.26 L321.9,200.27 L322.4,202.27 L322.9,204.25 L323.4,206.23 L323.9,208.19 L324.4,210.14 L324.9,212.07 L325.4,213.99 L325.9,215.89 L326.4,217.78 L326.9,219.66 L327.4,221.52 L327.9,223.36 L328.4,225.19 L328.9,226.99 L329.4,228.79 L329.9,230.56 L330.4,232.32 L330.9,234.05 L331.4,235.77 L331.9,237.47 L332.4,239.16 L332.9,240.82 L333.4,242.46 L333.9,244.08 L334.4,245.69 L334.9,247.27 L335.4,248.83 L335.9,250.37 L336.4,251.89 L336.9,253.39 L337.4,254.86 L337.9,256.32 L338.4,257.75 L338.9,259.16 L339.4,260.54 L339.9,261.90 L340.4,263.24 L340.9,264.56 L341.4,265.85 L341.9,267.11 L342.4,268.36 L342.9,269.57 L343.4,270.76 L343.9,271.93 L344.4,273.07 L344.9,274.18 L345.4,275.27 L345.9,276.33 L346.4,277.37 L346.9,278.38 L347.4,279.36 L347.9,280.32 L348.4,281.26 L348.9,282.17 L349.4,283.06 L349.9,283.93 L350.4,284.77 L350.9,285.59 L351.4,286.39 L351.9,287.16 L352.4,287.92 L352.9,288.65 L353.4,289.37 L353.9,290.06 L354.4,290.73 L354.9,291.39 L355.4,292.02 L355.9,292.64 L356.4,293.23 L356.9,293.81 L357.4,294.37 L357.9,294.92 L358.4,295.45 L358.9,295.96 L359.4,296.45 L359.9,296.93 L360.4,297.39 L360.9,297.84 L361.4,298.28 L361.9,298.70 L362.4,299.10 L362.9,299.49 L363.4,299.87 L363.9,300.24 L364.4,300.59 L364.9,300.93 L365.4,301.26 L365.9,301.57 L366.4,301.88 L366.9,302.18 L367.4,302.46 L367.9,302.74 L368.4,303.00 L368.9,303.26 L369.4,303.51 L369.9,303.75 L370.4,303.98 L370.9,304.20 L371.4,304.42 L371.9,304.63 L372.4,304.83 L372.9,305.02 L373.4,305.21 L373.9,305.40 L374.4,305.57 L374.9,305.74 L375.4,305.91 L375.9,306.07 L376.4,306.22 L376.9,306.37 L377.4,306.51 L377.9,306.65 L378.4,306.78 L378.9,306.90 L379.4,307.03 L379.9,307.14 L380.4,307.25 L380.9,307.36 L381.4,307.46 L381.9,307.55 L382.4,307.65 L382.9,307.73 L383.4,307.82 L383.9,307.90 L384.4,307.97 L384.9,308.04 L385.4,308.11 L385.9,308.17 L386.4,308.23 L386.9,308.28 L387.4,308.34 L387.9,308.38 L388.4,308.43 L388.9,308.47 L389.4,308.51 L389.9,308.54 L390.4,308.58 L390.9,308.61 L391.4,308.63 L391.9,308.65 L392.4,308.65 L392.9,308.65 L393.4,308.65 L393.9,308.65 L394.4,308.65 L394.9,308.65 L395.4,308.65 L395.9,308.65"/>
</g>
<g stroke="#000" stroke-width="2" fill="none">
<rect x="47.9" y="29.1" width="434.40" height="279.65"/>
<g stroke-width="1.5"><line x1="120.3" y1="308.75" x2="120.3" y2="304.65"/><line x1="120.3" y1="29.1" x2="120.3" y2="33.30"/><line x1="192.7" y1="308.75" x2="192.7" y2="304.65"/><line x1="192.7" y1="29.1" x2="192.7" y2="33.30"/><line x1="265.1" y1="308.75" x2="265.1" y2="304.65"/><line x1="265.1" y1="29.1" x2="265.1" y2="33.30"/><line x1="337.5" y1="308.75" x2="337.5" y2="304.65"/><line x1="337.5" y1="29.1" x2="337.5" y2="33.30"/><line x1="409.9" y1="308.75" x2="409.9" y2="304.65"/><line x1="409.9" y1="29.1" x2="409.9" y2="33.30"/><line x1="47.9" y1="168.9" x2="52.00" y2="168.9"/></g>
</g>
<g font-size="19.8px" fill="#000" stroke="#000" stroke-width="0.3">
<text x="265.3" y="21.3" text-anchor="middle" font-size="19.5px">CPL model</text>
<text x="47.9" y="325.5" text-anchor="middle">-3</text><text x="120.3" y="325.5" text-anchor="middle">-2</text><text x="183.9" y="325.5">-</text><path d="M195.50,325.4 H197.55 V311.20 H196.05 C195.75,312.80 194.65,313.90 192.45,314.00 V315.35 H195.50 Z" fill="#000" stroke="none"/><text x="267.9" y="325.5" text-anchor="middle">0</text><path d="M340.15,325.4 H342.20 V311.20 H340.70 C340.40,312.80 339.30,313.90 337.10,314.00 V315.35 H340.15 Z" fill="#000" stroke="none"/><text x="412.6" y="325.5" text-anchor="middle">2</text><text x="485.1" y="325.5" text-anchor="middle">3</text>
<path d="M36.05,35.3 H38.10 V21.10 H36.60 C36.30,22.70 35.20,23.80 33.00,23.90 V25.25 H36.05 Z" fill="#000" stroke="none"/>
<text x="42.1" y="175.4" text-anchor="end">0.5</text>
<text x="42.1" y="315.7" text-anchor="end">0</text>
<text transform="translate(15.3,169.0) rotate(-90)" text-anchor="middle" font-size="19.5px">Likelihood</text>
<text x="253.6" y="337.9" font-size="19px">w</text><text x="267.2" y="343.9" font-size="15px">a</text>
</g>
</svg>
</body></html>
